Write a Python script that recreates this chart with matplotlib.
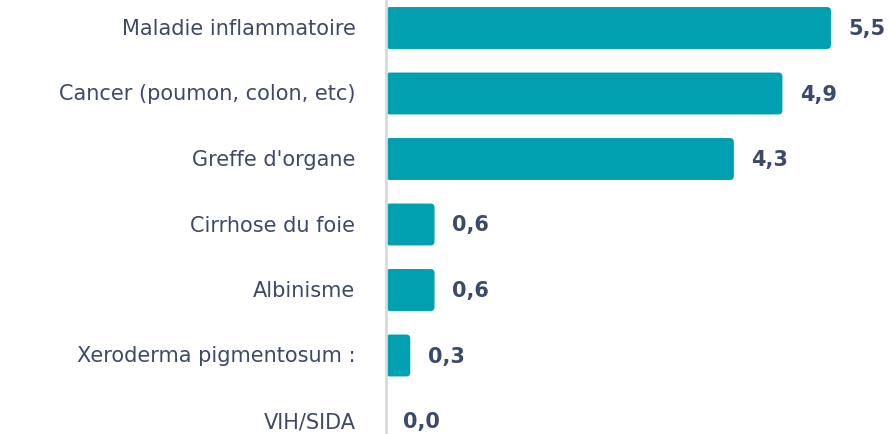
import matplotlib
matplotlib.use("Agg")
import matplotlib.pyplot as plt
from matplotlib.patches import FancyBboxPatch

# data
categories = ['Maladie inflammatoire', 'Cancer (poumon, colon, etc)', "Greffe d'organe",
              'Cirrhose du foie', 'Albinisme', 'Xeroderma pigmentosum :', 'VIH/SIDA']
values = [5.5, 4.9, 4.3, 0.6, 0.6, 0.3, 0.0]
value_labels = ['5,5', '4,9', '4,3', '0,6', '0,6', '0,3', '0,0']

bar_color = '#00A0B0'
label_color = '#3B4A6B'
text_color = '#3E4A66'

fig = plt.figure(figsize=(8.89, 4.35), dpi=100)
ax = fig.add_axes([386 / 889, 0, 1 - 386 / 889, 1])

pos = list(range(len(categories)))
bars = ax.barh(pos, values, height=0.64, color=bar_color)

# px scale: 80.9 px per unit, rows 65.5 px apart starting at 29 px
ax.set_xlim(0, (889 - 386) / 80.9)
ax.set_ylim((435 - 29) / 65.5, -29 / 65.5)

# slightly rounded bar ends
px_x = 1 / 80.9
px_y = 1 / 65.5
for b in bars:
    w = b.get_width()
    if w <= 0:
        b.set_visible(False)
        continue
    r = 4 * px_x
    fb = FancyBboxPatch((b.get_x(), b.get_y()), w, b.get_height(),
                        boxstyle=f'round,pad=0,rounding_size={r}',
                        mutation_aspect=px_y / px_x,
                        facecolor=bar_color, edgecolor='none')
    b.set_visible(False)
    ax.add_patch(fb)

for p, v, lab in zip(pos, values, value_labels):
    ax.annotate(lab, (v, p), xytext=(12.5, 0), textcoords='offset points',
                ha='left', va='center', fontsize=15, fontweight='bold',
                color=label_color)

for p, cat in zip(pos, categories):
    ax.annotate(cat, (0, p), xytext=(-22, 0), textcoords='offset points',
                ha='right', va='center', fontsize=15, color=text_color,
                annotation_clip=False)

ax.set_xticks([])
ax.set_yticks([])
for s in ['top', 'right', 'bottom']:
    ax.spines[s].set_visible(False)
ax.spines['left'].set_color('#D9D9D9')
ax.spines['left'].set_linewidth(2)
ax.spines['left'].set_zorder(5)

fig.savefig('out.png', dpi=100)
